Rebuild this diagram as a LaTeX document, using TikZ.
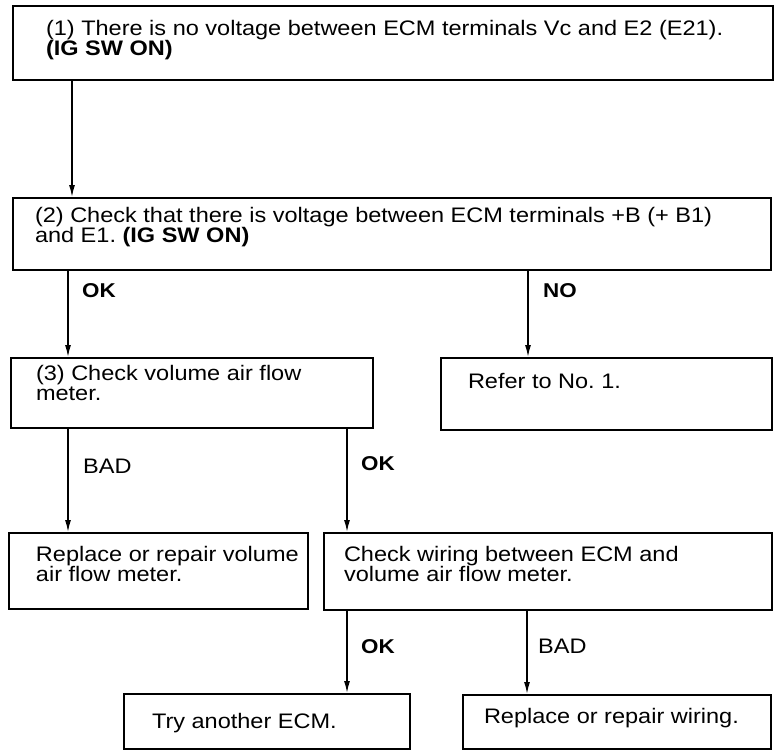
\documentclass[tikz,border=0pt]{standalone}
\usepackage{fontspec}
\setmainfont{Liberation Sans}[FakeStretch=1.12]
\usetikzlibrary{arrows.meta}
\newcommand\btxt[3]{\hspace*{#1}\parbox[t]{#2}{\raggedright\frenchspacing #3}}
\begin{document}
\begin{tikzpicture}[x=1pt,y=-1pt,
  fbox/.style={draw, line width=2pt, anchor=north west, inner sep=0pt,
    font=\fontsize{21}{20}\selectfont},
  arr/.style={line width=1.4pt, -{Latex[length=12pt,width=6pt]}},
  lbl/.style={anchor=base west, inner sep=0pt, font=\fontsize{21}{20}\selectfont},
  blbl/.style={lbl, font=\fontsize{20}{20}\selectfont\bfseries}]
\useasboundingbox (0,0) rectangle (775,749);

\node[fbox, text height=30pt, text depth=44pt] (b1) at (12,5)
  {\btxt{33pt}{727pt}{(1) There is no voltage between ECM terminals Vc and E2 (E21).\\\textbf{(IG SW ON)}}};
\node[fbox, text height=24pt, text depth=48pt] (b2) at (12,197)
  {\btxt{22pt}{736pt}{(2) Check that there is voltage between ECM terminals +B (+ B1)\\and E1. \textbf{(IG SW ON)}}};
\node[fbox, text height=22pt, text depth=48pt] (b3) at (10,357)
  {\btxt{25pt}{337pt}{(3) Check volume air flow\\meter.}};
\node[fbox, text height=30pt, text depth=42pt] (ref) at (440,357)
  {\btxt{27pt}{304pt}{Refer to No. 1.}};
\node[fbox, text height=28pt, text depth=48pt] (rep1) at (8,532)
  {\btxt{27pt}{272pt}{\mbox{Replace or repair volume}\\air flow meter.}};
\node[fbox, text height=28pt, text depth=49pt] (chk) at (323,532)
  {\btxt{20pt}{428pt}{Check wiring between ECM and\\volume air flow meter.}};
\node[fbox, text height=34pt, text depth=21pt] (try) at (123,693)
  {\btxt{28pt}{258pt}{Try another ECM.}};
\node[fbox, text height=28pt, text depth=26pt] (rep2) at (462,694)
  {\btxt{21pt}{287pt}{Replace or repair wiring.}};

\coordinate (xa) at (72,0);
\coordinate (xb) at (68,0);
\coordinate (xc) at (528,0);
\coordinate (xd) at (347,0);
\coordinate (xe) at (527,0);

\draw[arr] (b1.south -| xa) -- (b2.north -| xa);
\draw[arr] (b2.south -| xb) -- (b3.north -| xb);
\draw[arr] (b2.south -| xc) -- (ref.north -| xc);
\draw[arr] (b3.south -| xb) -- (rep1.north -| xb);
\draw[arr] (b3.south -| xd) -- (chk.north -| xd);
\draw[arr] (chk.south -| xd) -- (try.north -| xd);
\draw[arr] (chk.south -| xe) -- (rep2.north -| xe);

\node[blbl] (ok1) at (82,297) {OK};
\node[blbl] (no1) at (543,297) {NO};
\node[lbl] (bad1) at (83,473) {BAD};
\node[blbl] (ok2) at (361,470) {OK};
\node[blbl] (ok3) at (361,653) {OK};
\node[lbl] (bad2) at (538,653) {BAD};
\end{tikzpicture}
\end{document}
